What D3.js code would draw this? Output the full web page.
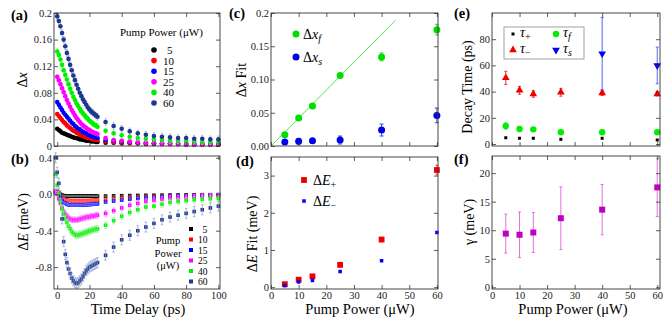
<!DOCTYPE html>
<html><head><meta charset="utf-8">
<script src="https://cdn.jsdelivr.net/npm/d3@7"></script>
<style>
body{margin:0;background:#fff}
svg{font-family:"Liberation Serif","Times New Roman",serif}
</style></head><body>
<svg id="fig" width="670" height="322"></svg>
<script>
// ---- data ----
const powers = [5, 10, 15, 25, 40, 60];
const powerColors = ['#000000', '#ff0000', '#0000ff', '#ff00ff', '#00ee00', '#1c3891'];

// (a) delta x vs time delay
const tA = [0,1,2,3,4,5,6,7,8,9,10,11,12,13,14,15,16,17,18,19,20,21,22,23,24,25,30,35,40,45,50,55,60,65,70,75,80,85,90,95,100];
const dx5  = [0.026,0.024,0.022,0.020,0.019,0.018,0.017,0.016,0.015,0.014,0.013,0.012,0.012,0.011,0.010,0.010,0.009,0.009,0.008,0.008,0.008,0.007,0.007,0.007,0.006,0.006,0.005,0.005,0.004,0.004,0.004,0.003,0.003,0.003,0.003,0.003,0.002,0.002,0.002,0.002,0.002];
const dx10 = [0.048,0.045,0.042,0.039,0.036,0.034,0.031,0.029,0.027,0.025,0.023,0.022,0.020,0.019,0.017,0.016,0.015,0.014,0.013,0.012,0.012,0.011,0.010,0.010,0.009,0.009,0.007,0.006,0.005,0.005,0.004,0.004,0.004,0.003,0.003,0.003,0.003,0.002,0.002,0.002,0.002];
const dx15 = [0.066,0.062,0.058,0.054,0.050,0.047,0.044,0.041,0.038,0.035,0.033,0.030,0.028,0.026,0.025,0.023,0.021,0.020,0.019,0.017,0.016,0.015,0.014,0.013,0.013,0.012,0.009,0.008,0.007,0.006,0.005,0.005,0.004,0.004,0.004,0.003,0.003,0.003,0.003,0.003,0.003];
const dx25 = [0.104,0.099,0.093,0.087,0.081,0.075,0.069,0.064,0.059,0.054,0.050,0.046,0.042,0.039,0.036,0.033,0.031,0.029,0.027,0.025,0.024,0.022,0.021,0.020,0.019,0.018,0.012,0.009,0.008,0.007,0.006,0.005,0.005,0.004,0.004,0.004,0.003,0.003,0.003,0.003,0.003];
const dx40 = [0.142,0.137,0.130,0.122,0.114,0.107,0.100,0.093,0.086,0.080,0.074,0.069,0.064,0.060,0.056,0.052,0.049,0.046,0.043,0.041,0.038,0.036,0.034,0.032,0.031,0.029,0.023,0.019,0.016,0.014,0.012,0.011,0.010,0.009,0.008,0.008,0.007,0.007,0.006,0.006,0.006];
const dx60 = [0.195,0.188,0.180,0.170,0.160,0.150,0.140,0.131,0.122,0.114,0.106,0.099,0.092,0.086,0.080,0.075,0.070,0.066,0.062,0.058,0.055,0.052,0.050,0.048,0.046,0.044,0.036,0.030,0.026,0.022,0.019,0.017,0.015,0.014,0.013,0.012,0.012,0.011,0.011,0.010,0.010];
const dxErr = [0.001, 0.002, 0.002, 0.003, 0.004, 0.005];

// (b) delta E vs time delay
const tB = [-1,0,1,2,3,4,5,6,7,8,9,10,11,12,13,14,15,16,17,18,19,20,21,22,23,24,25,30,35,40,45,50,55,60,65,70,75,80,85,90,95,100];
const dE5  = [0.03,0.03,0.02,0.00,-0.01,-0.015,-0.02,-0.02,-0.02,-0.02,-0.02,-0.02,-0.02,-0.02,-0.02,-0.02,-0.02,-0.02,-0.02,-0.02,-0.02,-0.02,-0.02,-0.02,-0.02,-0.02,-0.02,-0.02,-0.018,-0.016,-0.015,-0.013,-0.012,-0.011,-0.010,-0.009,-0.008,-0.007,-0.006,-0.005,-0.005,-0.004];
const dE10 = [0.02,0.02,0.00,-0.02,-0.04,-0.05,-0.06,-0.065,-0.068,-0.07,-0.07,-0.07,-0.07,-0.07,-0.07,-0.07,-0.07,-0.07,-0.07,-0.07,-0.07,-0.07,-0.068,-0.068,-0.066,-0.066,-0.065,-0.055,-0.05,-0.045,-0.04,-0.035,-0.03,-0.027,-0.024,-0.021,-0.018,-0.015,-0.012,-0.01,-0.008,-0.006];
const dE15 = [0.02,0.01,-0.02,-0.05,-0.07,-0.09,-0.10,-0.11,-0.115,-0.12,-0.12,-0.12,-0.12,-0.12,-0.12,-0.12,-0.118,-0.117,-0.116,-0.115,-0.114,-0.113,-0.112,-0.11,-0.108,-0.107,-0.105,-0.085,-0.075,-0.065,-0.055,-0.045,-0.04,-0.035,-0.03,-0.025,-0.02,-0.018,-0.015,-0.012,-0.01,-0.008];
const dE25 = [0.03,0.00,-0.05,-0.10,-0.15,-0.19,-0.22,-0.24,-0.26,-0.27,-0.28,-0.28,-0.28,-0.28,-0.28,-0.27,-0.27,-0.26,-0.26,-0.25,-0.25,-0.25,-0.24,-0.24,-0.24,-0.23,-0.23,-0.21,-0.18,-0.15,-0.12,-0.10,-0.08,-0.065,-0.055,-0.045,-0.04,-0.035,-0.03,-0.025,-0.02,-0.015];
const dE40 = [0.22,0.10,0.00,-0.08,-0.16,-0.22,-0.27,-0.31,-0.35,-0.38,-0.41,-0.43,-0.44,-0.45,-0.45,-0.44,-0.44,-0.43,-0.42,-0.42,-0.41,-0.40,-0.40,-0.39,-0.39,-0.38,-0.38,-0.34,-0.29,-0.24,-0.20,-0.17,-0.14,-0.13,-0.11,-0.09,-0.08,-0.07,-0.06,-0.055,-0.05,-0.045];
const dE60 = [0.40,0.24,0.12,-0.02,-0.27,-0.52,-0.66,-0.75,-0.82,-0.87,-0.92,-0.95,-0.97,-0.98,-0.97,-0.95,-0.93,-0.90,-0.87,-0.84,-0.82,-0.80,-0.79,-0.78,-0.77,-0.76,-0.75,-0.67,-0.58,-0.50,-0.45,-0.40,-0.36,-0.32,-0.28,-0.25,-0.23,-0.21,-0.19,-0.17,-0.15,-0.13];
const dEErr = [0.005, 0.008, 0.01, 0.03, 0.035, 0.055];

// (c) fit amplitudes
const dxFast = [0.017, 0.042, 0.060, 0.106, 0.134, 0.175];
const dxFastErr = [0.002, 0.002, 0.002, 0.003, 0.006, 0.008];
const dxSlow = [0.006, 0.007, 0.008, 0.009, 0.024, 0.046];
const dxSlowErr = [0.002, 0.004, 0.003, 0.006, 0.009, 0.011];
const fitLineX = [0, 45];
const fitLineY = [0, 0.189];

// (d) energy shift fits
const dEPlus = [0.08, 0.20, 0.29, 0.60, 1.28, 3.15];
const dEPlusErr = [0.03, 0.04, 0.04, 0.06, 0.06, 0.13];
const dEMinus = [0.04, 0.14, 0.18, 0.42, 0.71, 1.47];

// (e) decay times
const tauPlus = [4.8, 4.4, 4.4, 3.6, 4.4, 3.1];
const tauMinus = [50.5, 41, 38.2, 39.5, 39, 38.2];
const tauMinusErr = [5, 3, 2.5, 3, 2, 1.5];
const tauFast = [13.8, 11.5, 11.2, 9.0, 9.0, 9.0];
const tauFastErr = [2.5, 1.5, 1.2, 1, 1, 1];
const tauSlowP = [40, 60];
const tauSlow = [69, 60];
const tauSlowErr = [27.5, 14];

// (f) gamma
const gamma = [9.4, 9.2, 9.6, 12.1, 13.6, 17.5];
const gammaErr = [3.4, 4.0, 3.5, 5.5, 4.4, 5.1];

// ---- drawing ----
const svg = d3.select('#fig');

function pale(c, k) {
  return d3.interpolateRgb(c, '#ffffff')(k);
}

function panel(box, xDom, yDom, xTicks, yTicks, xFmt, yFmt) {
  const x = d3.scaleLinear().domain(xDom).range([box.l, box.r]);
  const y = d3.scaleLinear().domain(yDom).range([box.b, box.t]);
  const g = svg.append('g');
  const ax = svg.append('g');

  const style = sel => {
    sel.select('.domain').remove();
    sel.selectAll('.tick line').attr('stroke', '#333').attr('stroke-width', 0.8);
    sel.selectAll('.tick text').attr('font-size', 10.5).attr('fill', '#222')
      .attr('font-family', '"Liberation Serif","Times New Roman",serif');
  };
  ax.append('g').attr('transform', `translate(0,${box.b})`)
    .call(d3.axisBottom(x).tickValues(xTicks).tickSizeInner(-4).tickSizeOuter(0).tickPadding(3)
      .tickFormat(xFmt || ''))
    .call(style);
  ax.append('g').attr('transform', `translate(0,${box.t})`)
    .call(d3.axisTop(x).tickValues(xTicks).tickSizeInner(-4).tickSizeOuter(0).tickFormat(''))
    .call(style);
  ax.append('g').attr('transform', `translate(${box.l},0)`)
    .call(d3.axisLeft(y).tickValues(yTicks).tickSizeInner(-4).tickSizeOuter(0).tickPadding(2)
      .tickFormat(yFmt))
    .call(style);
  ax.append('g').attr('transform', `translate(${box.r},0)`)
    .call(d3.axisRight(y).tickValues(yTicks).tickSizeInner(-4).tickSizeOuter(0).tickFormat(''))
    .call(style);
  ax.append('rect').attr('x', box.l).attr('y', box.t)
    .attr('width', box.r - box.l).attr('height', box.b - box.t)
    .attr('fill', 'none').attr('stroke', '#333').attr('stroke-width', 0.9);
  return { x, y, g, ax };
}

function errBars(g, x, y, xs, ys, errs, color, cap, width) {
  const eb = g.append('g').attr('stroke', color).attr('stroke-width', width || 0.8);
  xs.forEach((xv, i) => {
    const e = Array.isArray(errs) ? errs[i] : errs;
    const px = x(xv), y0 = y(ys[i] - e), y1 = y(ys[i] + e);
    eb.append('line').attr('x1', px).attr('x2', px).attr('y1', y0).attr('y2', y1);
    eb.append('line').attr('x1', px - cap).attr('x2', px + cap).attr('y1', y0).attr('y2', y0);
    eb.append('line').attr('x1', px - cap).attr('x2', px + cap).attr('y1', y1).attr('y2', y1);
  });
}

function squares(g, x, y, xs, ys, size, color) {
  g.append('g').selectAll('rect').data(xs).join('rect')
    .attr('x', (d) => x(d) - size / 2).attr('y', (d, i) => y(ys[i]) - size / 2)
    .attr('width', size).attr('height', size).attr('fill', color);
}

function circles(g, x, y, xs, ys, r, color) {
  g.append('g').selectAll('circle').data(xs).join('circle')
    .attr('cx', d => x(d)).attr('cy', (d, i) => y(ys[i])).attr('r', r).attr('fill', color);
}

function label(txt, x, y) {
  svg.append('text').attr('x', x).attr('y', y).attr('font-size', 14.5)
    .attr('font-weight', 'bold').text(txt);
}

function vLabel(x, y, parts, size) {
  const t = svg.append('text').attr('transform', `translate(${x},${y}) rotate(-90)`)
    .attr('text-anchor', 'middle').attr('font-size', size || 14);
  parts.forEach(p => t.append('tspan').attr('font-style', p[1] ? 'italic' : null).text(p[0]));
}

function hLabel(x, y, txt) {
  svg.append('text').attr('x', x).attr('y', y).attr('text-anchor', 'middle')
    .attr('font-size', 14.5).text(txt);
}

// (a)
const A = panel({ l: 54, r: 220, t: 13, b: 146 }, [-2, 101], [0, 0.2],
  [0, 20, 40, 60, 80, 100], [0, 0.04, 0.08, 0.12, 0.16, 0.2], null,
  v => v === 0 ? '0' : (v === 0.2 ? '0.2' : v.toFixed(2)));
const dxSeries = [dx5, dx10, dx15, dx25, dx40, dx60];
dxSeries.forEach((s, i) => {
  errBars(A.g, A.x, A.y, tA, s, dxErr[i], pale(powerColors[i], 0.55), 1, 0.7);
  circles(A.g, A.x, A.y, tA, s, 2.3, powerColors[i]);
});
svg.append('text').attr('x', 120).attr('y', 36).attr('font-size', 11).text('Pump Power (\u03BCW)');
powers.forEach((p, i) => {
  const yy = 50 + i * 10.6;
  svg.append('circle').attr('cx', 154).attr('cy', yy).attr('r', 2.8).attr('fill', powerColors[i]);
  svg.append('text').attr('x', p < 10 ? 167 : 163).attr('y', yy + 4).attr('font-size', 11).text(p);
});
label('(a)', 11, 20);
vLabel(27, 80, [['\u0394'], ['x', true]]);

// (b)
const B = panel({ l: 54, r: 220, t: 156, b: 289 }, [-2, 101], [-1.04, 0.42],
  [0, 20, 40, 60, 80, 100], [0.4, 0, -0.4, -0.8], d3.format('d'), v => v.toFixed(1));
const dESeries = [dE5, dE10, dE15, dE25, dE40, dE60];
dESeries.forEach((s, i) => {
  squares(B.g, B.x, B.y, tB, s, 3.6, powerColors[i]);
  errBars(B.g, B.x, B.y, tB, s, dEErr[i], pale(powerColors[i], 0.5), 1.3, 0.7);
});
['Pump', 'Power', '(\u03BCW)'].forEach((w, i) => {
  svg.append('text').attr('x', 168).attr('y', 244 + i * 12.5).attr('text-anchor', 'middle')
    .attr('font-size', 10.5).text(w);
});
powers.forEach((p, i) => {
  const yy = 229 + i * 10.5;
  svg.append('rect').attr('x', 189).attr('y', yy - 2).attr('width', 4).attr('height', 4).attr('fill', powerColors[i]);
  svg.append('text').attr('x', p < 10 ? 202.5 : 198).attr('y', yy + 3.5).attr('font-size', 9.5).text(p);
});
label('(b)', 11, 164);
vLabel(28, 222, [['\u0394'], ['E', true], [' (meV)']]);
hLabel(138, 314, 'Time Delay (ps)');

// (c)
const C = panel({ l: 271, r: 438, t: 13, b: 146 }, [0, 60.4], [0, 0.2],
  [0, 10, 20, 30, 40, 50, 60], [0, 0.05, 0.1, 0.15, 0.2], null,
  v => v === 0.2 ? '0.2' : v.toFixed(2));
C.g.append('line').attr('x1', C.x(fitLineX[0])).attr('y1', C.y(fitLineY[0]))
  .attr('x2', C.x(fitLineX[1])).attr('y2', C.y(fitLineY[1]))
  .attr('stroke', '#3ee03e').attr('stroke-width', 0.9);
errBars(C.g, C.x, C.y, powers, dxFast, dxFastErr, '#33cc33', 2, 0.9);
circles(C.g, C.x, C.y, powers, dxFast, 3.5, '#00dd00');
errBars(C.g, C.x, C.y, powers, dxSlow, dxSlowErr, '#2233dd', 2, 0.9);
circles(C.g, C.x, C.y, powers, dxSlow, 3.5, '#0000ee');
[['f', '#00dd00', 37], ['s', '#0000ee', 60]].forEach(([sub, col, yy]) => {
  svg.append('circle').attr('cx', 296).attr('cy', yy - 3).attr('r', 3.5).attr('fill', col);
  const t = svg.append('text').attr('x', 303).attr('y', yy + 2).attr('font-size', 14);
  t.append('tspan').text('\u0394');
  t.append('tspan').attr('font-style', 'italic').text('x');
  t.append('tspan').attr('font-style', 'italic').attr('font-size', 10).attr('dy', 3).text(sub);
});
label('(c)', 229, 18);
vLabel(246, 80, [['\u0394'], ['x', true], [' Fit']]);

// (d)
const D = panel({ l: 271, r: 438, t: 157, b: 289 }, [0, 60.4], [-0.05, 3.5],
  [0, 10, 20, 30, 40, 50, 60], [0, 1, 2, 3], d3.format('d'), d3.format('d'));
errBars(D.g, D.x, D.y, powers, dEPlus, dEPlusErr, '#ee3333', 1.5, 0.9);
squares(D.g, D.x, D.y, powers, dEPlus, 5.8, '#ee0000');
squares(D.g, D.x, D.y, powers, dEMinus, 3.5, '#0000ff');
[['+', '#ee0000', 180, 5.8], ['\u2212', '#0000ff', 201, 3.5]].forEach(([sub, col, yy, sz]) => {
  svg.append('rect').attr('x', 304 - sz / 2).attr('y', yy - sz / 2).attr('width', sz).attr('height', sz).attr('fill', col);
  const t = svg.append('text').attr('x', 313).attr('y', yy + 5).attr('font-size', 14);
  t.append('tspan').text('\u0394');
  t.append('tspan').attr('font-style', 'italic').text('E');
  t.append('tspan').attr('font-size', 10).attr('dy', 3).text(sub);
});
label('(d)', 236, 166);
vLabel(257, 234, [['\u0394'], ['E', true], [' Fit (meV)']]);
hLabel(360, 314, 'Pump Power (\u03BCW)');

// (e)
const E = panel({ l: 492, r: 660, t: 13, b: 146 }, [0, 61], [-1.5, 100],
  [0, 10, 20, 30, 40, 50, 60], [0, 20, 40, 60, 80], null, d3.format('d'));
squares(E.g, E.x, E.y, powers, tauPlus, 3, '#000000');
errBars(E.g, E.x, E.y, powers, tauMinus, tauMinusErr, '#ee2222', 1.5, 0.9);
const tri = d3.symbol().type(d3.symbolTriangle).size(26);
E.g.append('g').selectAll('path').data(powers).join('path')
  .attr('d', tri).attr('fill', '#ee0000')
  .attr('transform', (d, i) => `translate(${E.x(d)},${E.y(tauMinus[i])})`);
errBars(E.g, E.x, E.y, powers, tauFast, tauFastErr, '#55ee55', 1.5, 0.9);
circles(E.g, E.x, E.y, powers, tauFast, 3.2, '#00ee00');
errBars(E.g, E.x, E.y, tauSlowP, tauSlow, tauSlowErr, '#5566ee', 1.5, 1);
E.g.append('g').selectAll('path').data(tauSlowP).join('path')
  .attr('d', tri).attr('fill', '#0000ee')
  .attr('transform', (d, i) => `translate(${E.x(d)},${E.y(tauSlow[i])}) rotate(180)`);
svg.append('rect').attr('x', 504).attr('y', 27).attr('width', 80).attr('height', 32)
  .attr('fill', '#fff').attr('stroke', '#888').attr('stroke-width', 0.8);
const tauItems = [
  { x: 513, y: 34, sub: '+', it: false, draw: g => g.append('rect').attr('x', -1.5).attr('y', -1.5).attr('width', 3).attr('height', 3).attr('fill', '#000') },
  { x: 513, y: 50, sub: '\u2212', it: false, draw: g => g.append('path').attr('d', tri).attr('fill', '#ee0000') },
  { x: 556, y: 34, sub: 'f', it: true, draw: g => g.append('circle').attr('r', 3.2).attr('fill', '#00ee00') },
  { x: 556, y: 50, sub: 's', it: true, draw: g => g.append('path').attr('d', tri).attr('fill', '#0000ee').attr('transform', 'rotate(180)') }
];
tauItems.forEach(d => {
  d.draw(svg.append('g').attr('transform', `translate(${d.x},${d.y})`));
  const t = svg.append('text').attr('x', d.x + 7).attr('y', d.y + 3).attr('font-size', 14);
  t.append('tspan').attr('font-style', 'italic').text('\u03C4');
  t.append('tspan').attr('font-style', d.it ? 'italic' : null).attr('font-size', 10).attr('dy', 3).text(d.sub);
});
label('(e)', 454, 18);
vLabel(472, 87, [['Decay Time (ps)']]);

// (f)
const F = panel({ l: 492, r: 660, t: 156, b: 289 }, [0, 61], [-0.3, 23],
  [0, 10, 20, 30, 40, 50, 60], [0, 5, 10, 15, 20], d3.format('d'), d3.format('d'));
errBars(F.g, F.x, F.y, powers, gamma, gammaErr, '#e070e0', 1.5, 1);
squares(F.g, F.x, F.y, powers, gamma, 6, '#c000c0');
label('(f)', 454, 164);
vLabel(474, 222, [['\u03B3 (meV)']]);
hLabel(573, 314, 'Pump Power (\u03BCW)');
</script>
</body></html>
